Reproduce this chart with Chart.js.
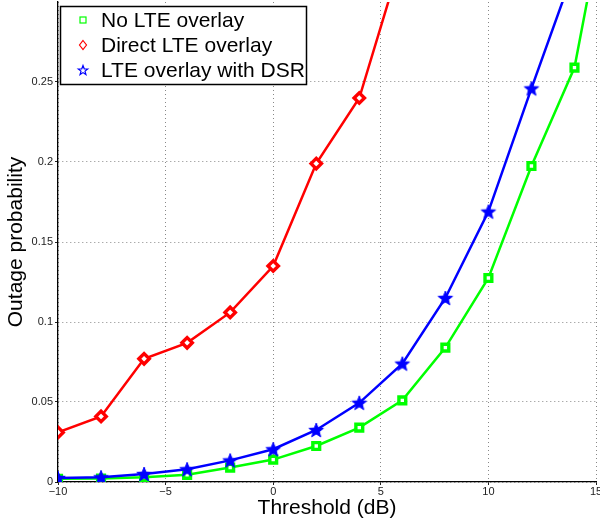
<!DOCTYPE html>
<html>
<head>
<meta charset="utf-8">
<script src="https://cdn.jsdelivr.net/npm/chart.js@4/dist/chart.umd.min.js"></script>
<style>
html,body{margin:0;padding:0;background:#fff;}
#wrap{width:600px;height:525px;}
</style>
</head>
<body>
<div id="wrap"><canvas id="c" width="600" height="525"></canvas></div>
<script>
const thresholds = [-10, -8, -6, -4, -2, 0, 2, 4, 6, 8, 10, 12, 14, 16];
const noOverlay   = [0.002, 0.0022, 0.003, 0.0045, 0.009, 0.014, 0.0225, 0.034, 0.051, 0.084, 0.1275, 0.1975, 0.259, 0.40];
const directOverlay = [0.031, 0.041, 0.077, 0.087, 0.106, 0.135, 0.199, 0.240, 0.329];
const dsrOverlay  = [0.0025, 0.003, 0.005, 0.008, 0.0135, 0.0205, 0.0325, 0.0495, 0.074, 0.115, 0.169, 0.246, 0.321];
const seriesLabels = ['No LTE overlay', 'Direct LTE overlay', 'LTE overlay with DSR'];
const xTicks = [-10, -5, 0, 5, 10, 15];
const yTicks = [0, 0.05, 0.1, 0.15, 0.2, 0.25];

function pts(vals){ return vals.map((v,i)=>({x: thresholds[i], y: v})); }

function starPath(ctx, cx, cy, R, r){
  ctx.beginPath();
  for(let i=0;i<10;i++){
    const a = -Math.PI/2 + i*Math.PI/5;
    const rad = i%2===0 ? R : r;
    const px = cx + rad*Math.cos(a), py = cy + rad*Math.sin(a);
    if(i===0) ctx.moveTo(px,py); else ctx.lineTo(px,py);
  }
  ctx.closePath();
}
const starImg = document.createElement('canvas');
starImg.width = 18; starImg.height = 18;
(function(){
  const g = starImg.getContext('2d');
  starPath(g, 9, 9.7, 7.6, 3.2);
  g.fillStyle = '#0000ff'; g.fill();
  g.lineWidth = 1; g.strokeStyle = '#0000ff'; g.stroke();
})();

const legendBox = {
  id: 'legendBox',
  afterDraw(chart){
    const ctx = chart.ctx;
    ctx.save();
    const x0 = 60.5, y0 = 6.5, w = 246, h = 78;
    ctx.fillStyle = '#fff';
    ctx.fillRect(x0, y0, w, h);
    ctx.lineWidth = 1.5; ctx.strokeStyle = '#000';
    ctx.strokeRect(x0, y0, w, h);
    ctx.font = '21px "Liberation Sans", Arial, sans-serif';
    ctx.textBaseline = 'middle';
    ctx.fillStyle = '#000';
    const rows = [20, 45, 70];
    chart.data.datasets.forEach((ds, i) => {
      const y = rows[i], mx = 83;
      ctx.lineWidth = 1.2;
      ctx.strokeStyle = ds.borderColor;
      if(i===0){ ctx.strokeRect(mx-3, y-3, 6, 6); }
      else if(i===1){
        ctx.beginPath(); ctx.moveTo(mx, y-4.5); ctx.lineTo(mx+3.5, y); ctx.lineTo(mx, y+4.5); ctx.lineTo(mx-3.5, y); ctx.closePath(); ctx.stroke();
      } else {
        starPath(ctx, mx, y+0.5, 5, 2.1); ctx.stroke();
      }
      ctx.fillStyle = '#000';
      ctx.fillText(ds.label, 101, y + 1);
    });
    ctx.restore();
  }
};

const tickFont = {family: '"Liberation Sans", Arial, sans-serif', size: 11};
const titleFont = {family: '"Liberation Sans", Arial, sans-serif', size: 21};

new Chart(document.getElementById('c'), {
  type: 'line',
  data: {
    datasets: [
      {label: seriesLabels[0], data: pts(noOverlay), borderColor: '#00ff00', backgroundColor: '#ffffff',
       borderWidth: 2.5, pointStyle: 'rect', pointRadius: 4.8, pointBorderWidth: 3.4, pointBorderColor: '#00ff00', pointBackgroundColor: '#ffffff', order: 2, tension: 0},
      {label: seriesLabels[1], data: pts(directOverlay), borderColor: '#ff0000', backgroundColor: '#ffffff',
       borderWidth: 2.5, pointStyle: 'rectRot', pointRadius: 5.2, pointBorderWidth: 3.4, pointBorderColor: '#ff0000', pointBackgroundColor: '#ffffff', order: 1, tension: 0},
      {label: seriesLabels[2], data: pts(dsrOverlay), borderColor: '#0000ff', backgroundColor: '#0000ff',
       borderWidth: 2.5, pointStyle: starImg, pointRadius: 8, order: 0, tension: 0}
    ]
  },
  options: {
    responsive: false,
    animation: false,
    events: [],
    layout: {autoPadding: false, padding: {left: 0, right: 4, top: 2, bottom: 0}},
    plugins: {legend: {display: false}, tooltip: {enabled: false}},
    scales: {
      x: {
        type: 'linear', min: -10, max: 15,
        afterBuildTicks(s){ s.ticks = xTicks.map(v=>({value: v})); },
        afterFit(s){ s.height = 43; s.paddingLeft = 0; s.paddingRight = 0; },
        ticks: {font: tickFont, color: '#222', padding: 0, maxRotation: 0, autoSkip: false,
                callback: v => String(v).replace('-', '\u2212')},
        grid: {color: '#888', lineWidth: 1, drawTicks: true, tickLength: 3, tickColor: '#222', tickBorderDash: []},
        border: {display: true, color: '#000', width: 1.3, dash: [1, 3]},
        title: {display: true, text: 'Threshold (dB)', font: titleFont, color: '#000', padding: {top: 4, bottom: 4}}
      },
      y: {
        type: 'linear', min: 0, max: 0.3,
        afterBuildTicks(s){ s.ticks = yTicks.map(v=>({value: v})); },
        afterFit(s){ s.width = 58; s.paddingTop = 0; s.paddingBottom = 0; },
        ticks: {font: tickFont, color: '#222', padding: 2, autoSkip: false,
                callback: v => String(Math.round(v*100)/100)},
        grid: {color: '#888', lineWidth: 1, drawTicks: true, tickLength: 3, tickColor: '#222', tickBorderDash: []},
        border: {display: true, color: '#000', width: 1.3, dash: [1, 3]},
        title: {display: true, text: 'Outage probability', font: titleFont, color: '#000', padding: {top: 4, bottom: 4}}
      }
    }
  },
  plugins: [legendBox]
});
</script>
</body>
</html>
